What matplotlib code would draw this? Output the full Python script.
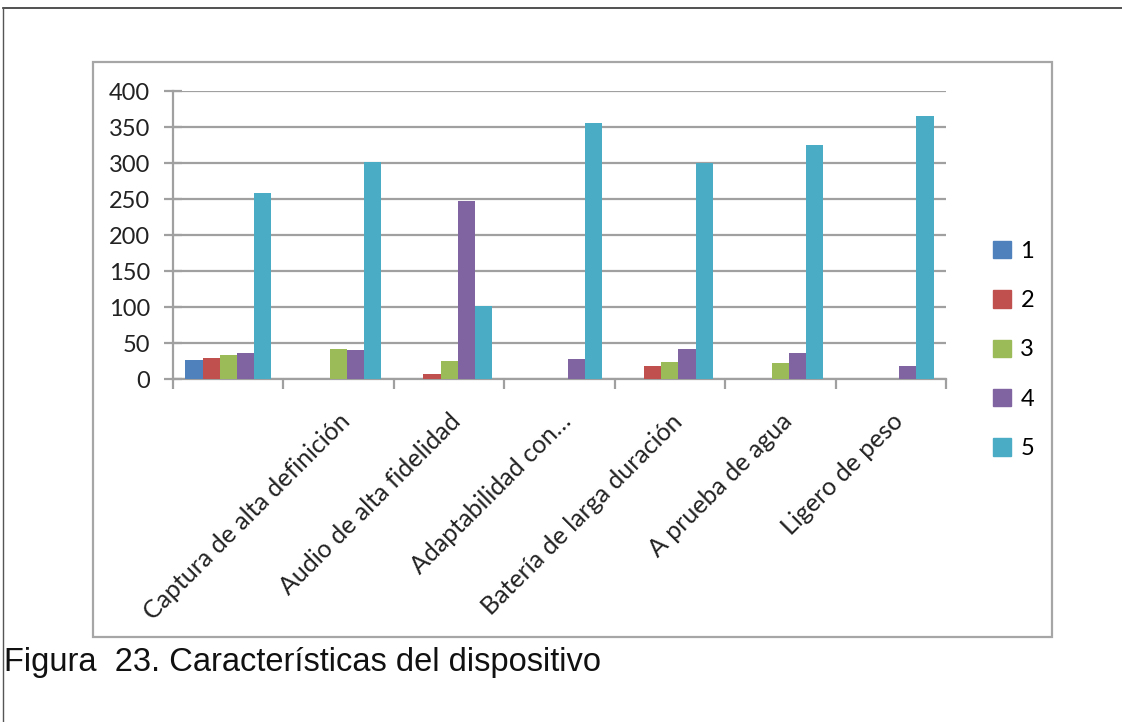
import matplotlib.pyplot as plt
import numpy as np
from matplotlib.patches import Rectangle
from matplotlib.lines import Line2D

# features (the first one has no label on the axis)
categories = ["", "Captura de alta definición", "Audio de alta fidelidad",
              "Adaptabilidad con…", "Batería de larga duración",
              "A prueba de agua", "Ligero de peso"]

series_names = ["1", "2", "3", "4", "5"]
s1 = [26, 0, 0, 0, 0, 0, 0]
s2 = [29, 0, 7, 0, 18, 0, 0]
s3 = [33, 42, 25, 0, 23, 22, 0]
s4 = [36, 40, 247, 28, 42, 36, 18]
s5 = [258, 301, 102, 356, 300, 325, 365]
yticks = [0, 50, 100, 150, 200, 250, 300, 350, 400]

colors = ["#4F81BD", "#C0504D", "#9BBB59", "#8064A2", "#4BACC6"]
axis_gray = "#A0A0A0"

plt.rcParams['font.family'] = ['Lato', 'DejaVu Sans']

fig = plt.figure(figsize=(11.22, 7.22), dpi=100)

# outer page lines and chart frame
fig.add_artist(Line2D([3/1122, 1], [1-8/722, 1-8/722], color="#333333", lw=1.2))
fig.add_artist(Line2D([3/1122, 3/1122], [0, 1-8/722], color="#555555", lw=1.0))
fig.add_artist(Rectangle((93/1122, 1-637/722), (1052-93)/1122, (637-62)/722,
                         fill=False, edgecolor="#A6A6A6", lw=1.6))

ax = fig.add_axes([173/1122, 1-379/722, (946-173)/1122, (379-91)/722])

data = [s1, s2, s3, s4, s5]
x = np.arange(len(categories))
w = 0.155
for i in range(len(data)):
    vals = np.array(data[i])
    pos = x + (i - 2) * w
    mask = vals > 0
    ax.bar(pos[mask], vals[mask], width=w, color=colors[i], edgecolor="none",
           zorder=3, label=series_names[i])

ax.set_ylim(0, 400)
ax.set_xlim(-0.5, len(categories) - 0.5)
ax.set_yticks(yticks)
ax.yaxis.grid(True, color=axis_gray, lw=1.6, zorder=0)
ax.set_axisbelow(True)

for side in ["top", "right"]:
    ax.spines[side].set_visible(False)
for side in ["left", "bottom"]:
    ax.spines[side].set_color(axis_gray)
    ax.spines[side].set_linewidth(1.6)

ax.tick_params(axis="y", direction="inout", length=13, width=1.6, color=axis_gray,
               labelsize=17, labelcolor="#222222", pad=10)

# category boundaries as tick marks, labels at centres
ax.set_xticks(np.arange(len(categories) + 1) - 0.5)
ax.set_xticklabels([])
ax.tick_params(axis="x", which="major", direction="out", length=7, width=1.6,
               color=axis_gray)
ax.set_xticks(x, minor=True)
ax.set_xticklabels(categories, minor=True, rotation=45, ha="right",
                   rotation_mode="anchor", fontsize=18, color="#222222")
ax.tick_params(axis="x", which="minor", length=0, pad=22)

handles = [Rectangle((0, 0), 1, 1, color=c) for c in colors]
fig.legend(handles, series_names, loc="center left",
           bbox_to_anchor=(972/1122, 1-350/722), frameon=False, fontsize=17,
           handlelength=0.75, handleheight=0.75, handletextpad=0.4,
           labelspacing=1.2)

fig.text(4/1122, 1-662/722, "Figura  23. Características del dispositivo",
         fontsize=23.5, family="Liberation Sans", color="#111111", va="center")

fig.savefig("out.png", dpi=100)
